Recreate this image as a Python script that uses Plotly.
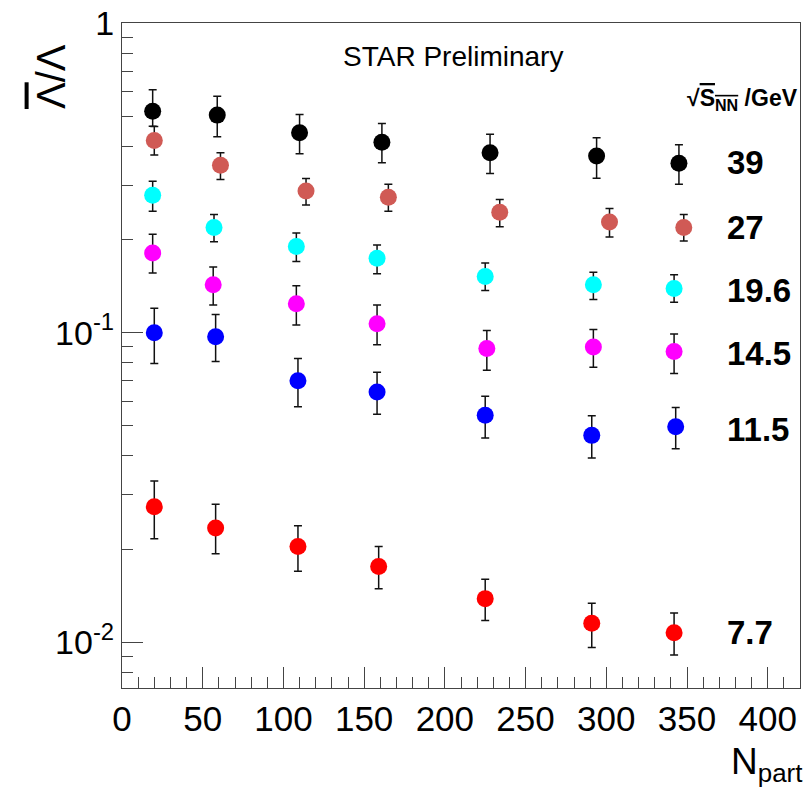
import plotly.graph_objects as go

# ---- data ----
energies = ["39", "27", "19.6", "14.5", "11.5", "7.7"]
colors = ["#000000", "#d05a55", "#00ffff", "#ff00ff", "#0000ff", "#ff0000"]

npart_39 = [19, 59, 110, 161, 228, 294, 345]
ratio_39 = [0.520, 0.505, 0.443, 0.413, 0.382, 0.3725, 0.353]
hi_39 = [0.610, 0.581, 0.507, 0.4745, 0.438, 0.427, 0.405]
lo_39 = [0.465, 0.430, 0.379, 0.354, 0.327, 0.316, 0.302]

npart_27 = [20, 61, 114, 165, 234, 302, 348]
ratio_27 = [0.418, 0.348, 0.287, 0.274, 0.245, 0.228, 0.219]
hi_27 = [0.464, 0.382, 0.315, 0.302, 0.2695, 0.252, 0.241]
lo_27 = [0.3755, 0.313, 0.2585, 0.247, 0.220, 0.204, 0.198]

npart_196 = [19, 57, 108, 158, 225, 292, 342]
ratio_196 = [0.278, 0.219, 0.190, 0.174, 0.152, 0.143, 0.139]
hi_196 = [0.309, 0.241, 0.210, 0.192, 0.168, 0.157, 0.154]
lo_196 = [0.247, 0.197, 0.170, 0.155, 0.137, 0.128, 0.1255]

npart_145 = [19, 56.5, 108, 158, 226, 292, 342]
ratio_145 = [0.181, 0.143, 0.124, 0.107, 0.0889, 0.090, 0.087]
hi_145 = [0.208, 0.163, 0.142, 0.123, 0.1017, 0.1024, 0.0991]
lo_145 = [0.156, 0.123, 0.106, 0.0915, 0.0756, 0.0774, 0.0739]

npart_115 = [20, 58, 109, 158, 225, 291, 343]
ratio_115 = [0.100, 0.097, 0.070, 0.0643, 0.0541, 0.0466, 0.0497]
hi_115 = [0.120, 0.1145, 0.0825, 0.0745, 0.0623, 0.0539, 0.0573]
lo_115 = [0.0796, 0.0807, 0.0577, 0.0545, 0.0457, 0.0394, 0.0422]

npart_77 = [20, 58, 109, 159, 225, 291, 342]
ratio_77 = [0.0274, 0.0234, 0.0204, 0.01756, 0.01383, 0.01152, 0.01072]
hi_77 = [0.0332, 0.0279, 0.0238, 0.0204, 0.01596, 0.01335, 0.01243]
lo_77 = [0.0216, 0.0193, 0.01696, 0.01488, 0.01175, 0.00961, 0.00909]

y_tickvals = [0.01, 0.1, 1]
y_ticktext = ["10<sup>-2</sup>", "10<sup>-1</sup>", "1"]
x_tickvals = [0, 50, 100, 150, 200, 250, 300, 350, 400]

series = [
    (npart_39, ratio_39, hi_39, lo_39),
    (npart_27, ratio_27, hi_27, lo_27),
    (npart_196, ratio_196, hi_196, lo_196),
    (npart_145, ratio_145, hi_145, lo_145),
    (npart_115, ratio_115, hi_115, lo_115),
    (npart_77, ratio_77, hi_77, lo_77),
]
label_ypaper = [0.790, 0.693, 0.597, 0.503, 0.389, 0.084]

FONT = "Liberation Sans, Arial, sans-serif"

fig = go.Figure()
for (x, y, hi, lo), name, col in zip(series, energies, colors):
    plus = [h - v for h, v in zip(hi, y)]
    minus = [v - l for v, l in zip(y, lo)]
    fig.add_trace(go.Scatter(
        x=x, y=y, mode="markers", name=name,
        marker=dict(symbol="circle", size=17, color=col, line=dict(width=0)),
        error_y=dict(type="data", symmetric=False, array=plus, arrayminus=minus,
                     color="#111111", thickness=1.5, width=4),
        showlegend=False,
    ))

axis_common = dict(
    showgrid=False, zeroline=False, showline=True, mirror=True,
    linecolor="#444444", linewidth=1.3,
    ticks="inside", ticklen=21, tickwidth=1.3, tickcolor="#444444",
)

fig.update_xaxes(range=[0, 420], tickmode="array", tickvals=x_tickvals,
                 tickfont=dict(family=FONT, size=35, color="#000000"),
                 minor=dict(ticks="inside", ticklen=11, tickwidth=1.2,
                            tickcolor="#444444", dtick=10),
                 **axis_common)
fig.update_yaxes(type="log", range=[-2.148, 0.001], tickmode="array",
                 tickvals=y_tickvals, ticktext=y_ticktext,
                 tickfont=dict(family=FONT, size=34, color="#000000"),
                 minor=dict(ticks="inside", ticklen=11, tickwidth=1.2,
                            tickcolor="#444444", dtick="D1"),
                 **axis_common)

annotations = [
    dict(text="STAR Preliminary", xref="paper", yref="paper", x=0.488, y=0.95,
         xanchor="center", yanchor="middle", showarrow=False,
         font=dict(family=FONT, size=28, color="#000000")),
    dict(text="<b>√<span style='text-decoration:overline'>S<sub>NN</sub></span> /GeV</b>",
         xref="paper", yref="paper", x=0.83, y=0.885, xanchor="left", yanchor="middle",
         showarrow=False, font=dict(family=FONT, size=23, color="#000000")),
    dict(text="<span style='text-decoration:overline'>Λ</span>/Λ", xref="paper", yref="paper",
         x=-0.105, y=0.92, xanchor="center", yanchor="middle", textangle=-90,
         showarrow=False, font=dict(family=FONT, size=40, color="#000000")),
    dict(text="N<sub>part</sub>", xref="paper", yref="paper", x=1.006, y=-0.115,
         xanchor="right", yanchor="middle", showarrow=False,
         font=dict(family=FONT, size=37, color="#000000")),
]
for name, yp in zip(energies, label_ypaper):
    annotations.append(dict(text="<b>" + name + "</b>", xref="paper", yref="paper",
                            x=0.889, y=yp, xanchor="left", yanchor="middle",
                            showarrow=False,
                            font=dict(family=FONT, size=33, color="#000000")))

fig.update_layout(
    width=805, height=802,
    margin=dict(l=122, r=4, t=20, b=114),
    paper_bgcolor="white", plot_bgcolor="white",
    annotations=annotations,
)

fig.write_html("out.html")
